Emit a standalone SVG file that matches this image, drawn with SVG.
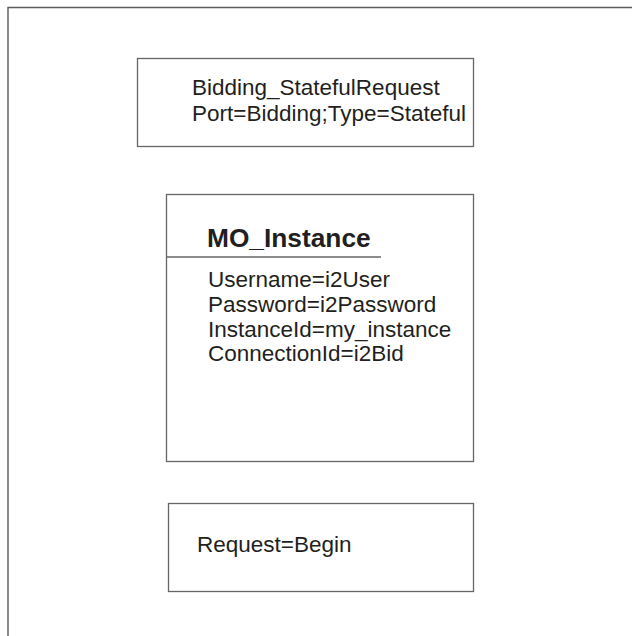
<svg xmlns="http://www.w3.org/2000/svg" width="632" height="636" viewBox="0 0 632 636">
<style>
.box{fill:#fff;stroke:#666;stroke-width:1.3}
.frame{fill:none;stroke:#5a5a5a;stroke-width:1.4}
.t{font-family:"Liberation Sans",Arial,sans-serif;font-size:22.5px;fill:#231f20}
.b{font-family:"Liberation Sans",Arial,sans-serif;font-size:26.3px;font-weight:bold;fill:#231f20}
</style>
<rect width="632" height="636" fill="#fff"/>
<path class="frame" d="M8,636 V7.5 H632"/>
<g id="connectors"></g>
<g id="node-request">
<rect class="box" x="137.5" y="58.5" width="336" height="88"/>
<text class="t" x="192" y="95">Bidding_StatefulRequest</text>
<text class="t" x="192" y="121">Port=Bidding;Type=Stateful</text>
</g>
<g id="node-mo-instance">
<rect class="box" x="166.5" y="194.5" width="307" height="267"/>
<text class="b" x="207" y="247">MO_Instance</text>
<line x1="166.5" y1="257" x2="381" y2="257" stroke="#666" stroke-width="1.3"/>
<text class="t" x="208" y="287">Username=i2User</text>
<text class="t" x="208" y="312">Password=i2Password</text>
<text class="t" x="208" y="337">InstanceId=my_instance</text>
<text class="t" x="208" y="361">ConnectionId=i2Bid</text>
</g>
<g id="node-begin">
<rect class="box" x="168.5" y="503.5" width="305" height="88"/>
<text class="t" x="197" y="552">Request=Begin</text>
</g>
</svg>
